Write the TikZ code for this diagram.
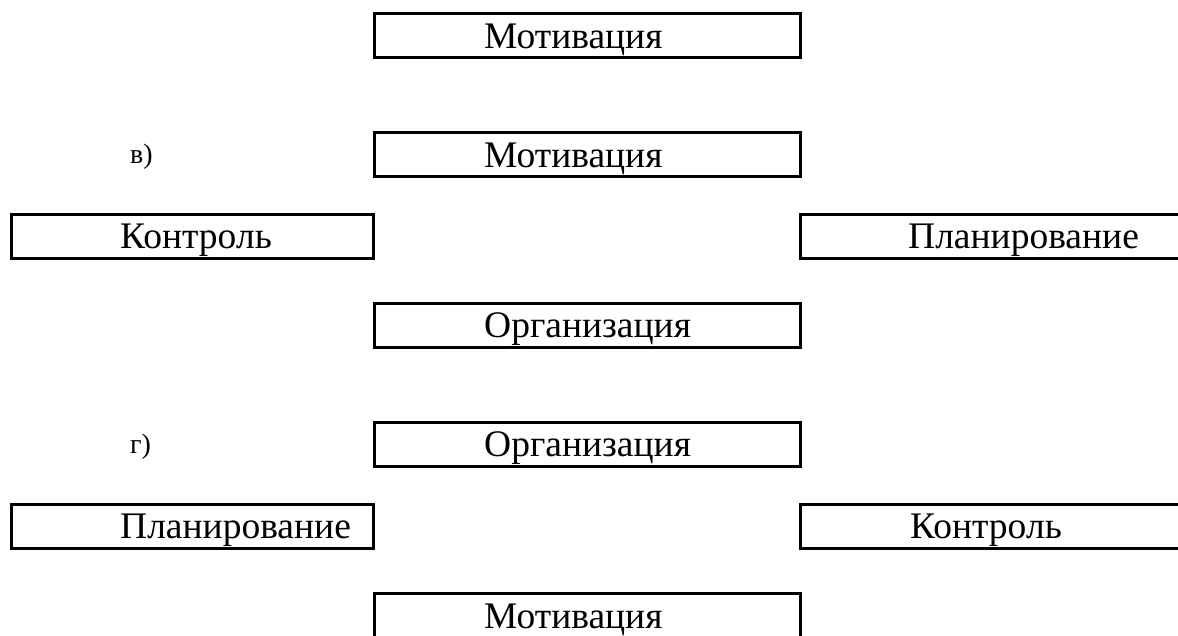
\documentclass[tikz,border=0pt]{standalone}
\usepackage{fontspec}
\setmainfont{Liberation Serif}
\begin{document}
\begin{tikzpicture}[x=1pt,y=-1pt,
  box/.style={draw=black, line width=3pt, anchor=north west, inner sep=0pt, outer sep=0pt, minimum height=44pt},
  cbox/.style={box, minimum width=426pt},
  lbox/.style={box, minimum width=362pt},
  rbox/.style={box, minimum width=420pt},
  txt/.style={anchor=base west, inner sep=0pt, font=\fontsize{37.5}{42}\selectfont},
  lab/.style={anchor=base west, inner sep=0pt, font=\fontsize{28}{32}\selectfont}]
\useasboundingbox (0,0) rectangle (1178,635);
\clip (0,0) rectangle (1178,635);
% section top
\node[cbox] (m1) at (374,13) {};
\node[txt] (m1t) at (484,48) {Мотивация};
% section в)
\node[lab] (lv) at (130,163) {в)};
\node[cbox] (m2) at (374,132) {};
\node[txt] (m2t) at (484,167) {Мотивация};
\node[lbox] (k1) at (11,214) {};
\node[txt] (k1t) at (120,248) {Контроль};
\node[rbox] (p1) at (800,214) {};
\node[txt] (p1t) at (908,248) {Планирование};
\node[cbox] (o1) at (374,303) {};
\node[txt] (o1t) at (484,337) {Организация};
% section г)
\node[lab] (lg) at (130,453) {г)};
\node[cbox] (o2) at (374,422) {};
\node[txt] (o2t) at (484,456) {Организация};
\node[lbox] (p2) at (11,504) {};
\node[txt] (p2t) at (120,538) {Планирование};
\node[rbox] (k2) at (800,504) {};
\node[txt] (k2t) at (910,538) {Контроль};
\node[cbox] (m3) at (374,593) {};
\node[txt] (m3t) at (484,628) {Мотивация};
\end{tikzpicture}
\end{document}
